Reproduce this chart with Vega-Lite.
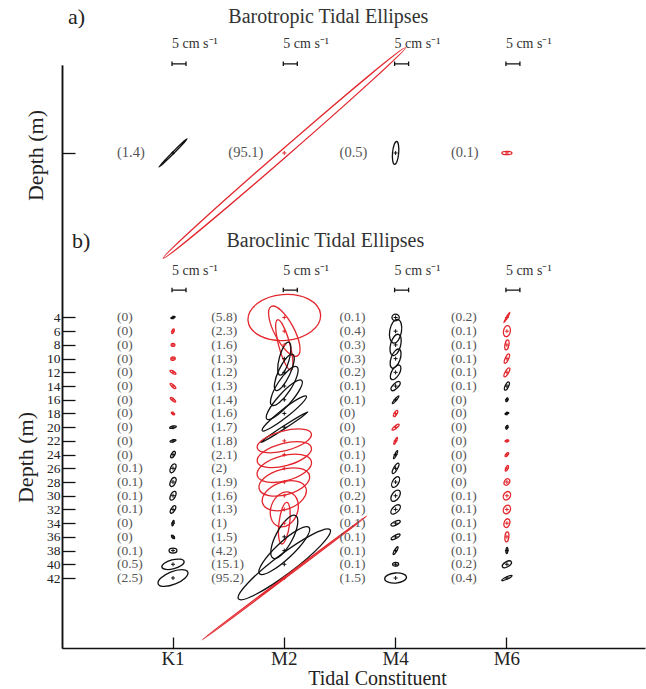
{
  "$schema": "https://vega.github.io/schema/vega-lite/v6.json",
  "width": 583,
  "height": 583,
  "autosize": {"type": "none"},
  "padding": {"left": 62, "top": 65, "right": 1, "bottom": 41},
  "background": "white",
  "config": {
    "view": {"stroke": null},
    "font": "Liberation Serif",
    "axis": {
      "grid": false,
      "labelOverlap": false,
      "labelBound": false,
      "domainColor": "#111111",
      "domainWidth": 1.5,
      "tickColor": "#111111",
      "tickWidth": 1.3,
      "labelColor": "#222222",
      "titleColor": "#222222",
      "labelFont": "Liberation Serif",
      "titleFont": "Liberation Serif",
      "titleFontWeight": "normal"
    },
    "axisY": {"labelOverlap": false},
    "axisLeft": {"labelOverlap": false},
    "axisQuantitative": {"labelOverlap": false}
  },
  "datasets": {
    "barotropic": [
      {"c": "K1", "major": 7.1, "minor": 0.3, "inc": 45, "sense": "clockwise", "share": 1.4},
      {"c": "M2", "major": 57.3, "minor": 1.4, "inc": 41, "sense": "anticlockwise", "share": 95.1},
      {"c": "M4", "major": 4.1, "minor": 1.1, "inc": 85, "sense": "clockwise", "share": 0.5},
      {"c": "M6", "major": 1.8, "minor": 0.6, "inc": 0, "sense": "anticlockwise", "share": 0.1}
    ],
    "baroclinic": [
      {"c": "K1", "depth": 4, "major": 0.8, "minor": 0.28, "inc": 20, "sense": "clockwise", "share": 0},
      {"c": "K1", "depth": 6, "major": 0.9, "minor": 0.35, "inc": 70, "sense": "anticlockwise", "share": 0},
      {"c": "K1", "depth": 8, "major": 0.7, "minor": 0.55, "inc": 0, "sense": "anticlockwise", "share": 0},
      {"c": "K1", "depth": 10, "major": 0.8, "minor": 0.6, "inc": 0, "sense": "anticlockwise", "share": 0},
      {"c": "K1", "depth": 12, "major": 1.2, "minor": 0.4, "inc": 150, "sense": "anticlockwise", "share": 0},
      {"c": "K1", "depth": 14, "major": 1.3, "minor": 0.4, "inc": 140, "sense": "anticlockwise", "share": 0},
      {"c": "K1", "depth": 16, "major": 1.2, "minor": 0.4, "inc": 140, "sense": "anticlockwise", "share": 0},
      {"c": "K1", "depth": 18, "major": 0.7, "minor": 0.3, "inc": 150, "sense": "anticlockwise", "share": 0},
      {"c": "K1", "depth": 20, "major": 1.2, "minor": 0.4, "inc": 10, "sense": "clockwise", "share": 0},
      {"c": "K1", "depth": 22, "major": 1.1, "minor": 0.35, "inc": 15, "sense": "clockwise", "share": 0},
      {"c": "K1", "depth": 24, "major": 1.3, "minor": 0.6, "inc": 60, "sense": "clockwise", "share": 0},
      {"c": "K1", "depth": 26, "major": 1.7, "minor": 0.85, "inc": 65, "sense": "clockwise", "share": 0.1},
      {"c": "K1", "depth": 28, "major": 1.7, "minor": 0.9, "inc": 65, "sense": "clockwise", "share": 0.1},
      {"c": "K1", "depth": 30, "major": 1.7, "minor": 0.85, "inc": 65, "sense": "clockwise", "share": 0.1},
      {"c": "K1", "depth": 32, "major": 1.5, "minor": 0.7, "inc": 60, "sense": "clockwise", "share": 0.1},
      {"c": "K1", "depth": 34, "major": 1.0, "minor": 0.3, "inc": 75, "sense": "clockwise", "share": 0},
      {"c": "K1", "depth": 36, "major": 0.8, "minor": 0.35, "inc": 130, "sense": "clockwise", "share": 0},
      {"c": "K1", "depth": 38, "major": 1.4, "minor": 0.9, "inc": 0, "sense": "clockwise", "share": 0.1},
      {"c": "K1", "depth": 40, "major": 4.1, "minor": 1.6, "inc": 15, "sense": "clockwise", "share": 0.5},
      {"c": "K1", "depth": 42, "major": 5.7, "minor": 2.3, "inc": 22, "sense": "clockwise", "share": 2.5},

      {"c": "M2", "depth": 4, "major": 13.0, "minor": 8.2, "inc": 5, "sense": "anticlockwise", "share": 5.8},
      {"c": "M2", "depth": 6, "major": 10.0, "minor": 3.5, "inc": 118, "sense": "anticlockwise", "share": 2.3},
      {"c": "M2", "depth": 8, "major": 9.3, "minor": 2.0, "inc": 105, "sense": "anticlockwise", "share": 1.6},
      {"c": "M2", "depth": 10, "major": 6.1, "minor": 1.8, "inc": 75, "sense": "clockwise", "share": 1.3},
      {"c": "M2", "depth": 12, "major": 7.1, "minor": 2.1, "inc": 65, "sense": "clockwise", "share": 1.2},
      {"c": "M2", "depth": 14, "major": 8.2, "minor": 2.5, "inc": 57, "sense": "clockwise", "share": 1.3},
      {"c": "M2", "depth": 16, "major": 9.3, "minor": 2.3, "inc": 48, "sense": "clockwise", "share": 1.4},
      {"c": "M2", "depth": 18, "major": 10.0, "minor": 1.5, "inc": 38, "sense": "clockwise", "share": 1.6},
      {"c": "M2", "depth": 20, "major": 10.0, "minor": 0.5, "inc": 33, "sense": "clockwise", "share": 1.7},
      {"c": "M2", "depth": 22, "major": 10.0, "minor": 3.5, "inc": 15, "sense": "anticlockwise", "share": 1.8},
      {"c": "M2", "depth": 24, "major": 10.0, "minor": 4.0, "inc": 15, "sense": "anticlockwise", "share": 2.1},
      {"c": "M2", "depth": 26, "major": 10.0, "minor": 4.5, "inc": 15, "sense": "anticlockwise", "share": 2},
      {"c": "M2", "depth": 28, "major": 9.3, "minor": 4.6, "inc": 15, "sense": "anticlockwise", "share": 1.9},
      {"c": "M2", "depth": 30, "major": 8.2, "minor": 4.9, "inc": 20, "sense": "anticlockwise", "share": 1.6},
      {"c": "M2", "depth": 32, "major": 6.4, "minor": 4.8, "inc": 70, "sense": "anticlockwise", "share": 1.3},
      {"c": "M2", "depth": 34, "major": 7.5, "minor": 1.9, "inc": 83, "sense": "anticlockwise", "share": 1},
      {"c": "M2", "depth": 36, "major": 8.6, "minor": 3.0, "inc": 62, "sense": "clockwise", "share": 1.5},
      {"c": "M2", "depth": 38, "major": 12.1, "minor": 3.0, "inc": 43, "sense": "clockwise", "share": 4.2},
      {"c": "M2", "depth": 40, "major": 20.5, "minor": 3.5, "inc": 37, "sense": "clockwise", "share": 15.1},
      {"c": "M2", "depth": 42, "major": 36.8, "minor": 0.25, "inc": 37, "sense": "anticlockwise", "share": 95.2},

      {"c": "M4", "depth": 4, "major": 1.3, "minor": 1.2, "inc": 0, "sense": "clockwise", "share": 0.1},
      {"c": "M4", "depth": 6, "major": 4.3, "minor": 2.1, "inc": 80, "sense": "clockwise", "share": 0.4},
      {"c": "M4", "depth": 8, "major": 3.9, "minor": 1.8, "inc": 75, "sense": "clockwise", "share": 0.3},
      {"c": "M4", "depth": 10, "major": 3.6, "minor": 1.6, "inc": 70, "sense": "clockwise", "share": 0.3},
      {"c": "M4", "depth": 12, "major": 2.9, "minor": 1.4, "inc": 60, "sense": "clockwise", "share": 0.2},
      {"c": "M4", "depth": 14, "major": 2.1, "minor": 0.9, "inc": 45, "sense": "clockwise", "share": 0.1},
      {"c": "M4", "depth": 16, "major": 1.8, "minor": 0.3, "inc": 50, "sense": "clockwise", "share": 0.1},
      {"c": "M4", "depth": 18, "major": 1.25, "minor": 0.5, "inc": 60, "sense": "anticlockwise", "share": 0},
      {"c": "M4", "depth": 20, "major": 1.6, "minor": 0.45, "inc": 40, "sense": "anticlockwise", "share": 0},
      {"c": "M4", "depth": 22, "major": 1.4, "minor": 0.3, "inc": 65, "sense": "anticlockwise", "share": 0.1},
      {"c": "M4", "depth": 24, "major": 1.6, "minor": 0.3, "inc": 65, "sense": "clockwise", "share": 0.1},
      {"c": "M4", "depth": 26, "major": 2.1, "minor": 0.65, "inc": 60, "sense": "clockwise", "share": 0.1},
      {"c": "M4", "depth": 28, "major": 2.1, "minor": 1.1, "inc": 60, "sense": "clockwise", "share": 0.1},
      {"c": "M4", "depth": 30, "major": 2.3, "minor": 1.3, "inc": 55, "sense": "clockwise", "share": 0.2},
      {"c": "M4", "depth": 32, "major": 2.1, "minor": 1.1, "inc": 45, "sense": "clockwise", "share": 0.1},
      {"c": "M4", "depth": 34, "major": 1.8, "minor": 0.65, "inc": 25, "sense": "clockwise", "share": 0.1},
      {"c": "M4", "depth": 36, "major": 1.8, "minor": 0.55, "inc": 30, "sense": "clockwise", "share": 0.1},
      {"c": "M4", "depth": 38, "major": 1.6, "minor": 0.4, "inc": 60, "sense": "clockwise", "share": 0.1},
      {"c": "M4", "depth": 40, "major": 1.1, "minor": 0.65, "inc": 0, "sense": "clockwise", "share": 0.1},
      {"c": "M4", "depth": 42, "major": 3.9, "minor": 1.8, "inc": 5, "sense": "clockwise", "share": 1.5},

      {"c": "M6", "depth": 4, "major": 2.1, "minor": 0.2, "inc": 60, "sense": "anticlockwise", "share": 0.2},
      {"c": "M6", "depth": 6, "major": 2.0, "minor": 1.2, "inc": 80, "sense": "anticlockwise", "share": 0.1},
      {"c": "M6", "depth": 8, "major": 1.8, "minor": 0.7, "inc": 80, "sense": "anticlockwise", "share": 0.1},
      {"c": "M6", "depth": 10, "major": 1.8, "minor": 0.6, "inc": 65, "sense": "anticlockwise", "share": 0.1},
      {"c": "M6", "depth": 12, "major": 1.8, "minor": 0.6, "inc": 60, "sense": "anticlockwise", "share": 0.1},
      {"c": "M6", "depth": 14, "major": 1.6, "minor": 0.6, "inc": 65, "sense": "clockwise", "share": 0.1},
      {"c": "M6", "depth": 16, "major": 0.7, "minor": 0.35, "inc": 70, "sense": "clockwise", "share": 0},
      {"c": "M6", "depth": 18, "major": 0.7, "minor": 0.3, "inc": 20, "sense": "clockwise", "share": 0},
      {"c": "M6", "depth": 20, "major": 0.7, "minor": 0.35, "inc": 70, "sense": "clockwise", "share": 0},
      {"c": "M6", "depth": 22, "major": 0.7, "minor": 0.3, "inc": 10, "sense": "anticlockwise", "share": 0},
      {"c": "M6", "depth": 24, "major": 0.9, "minor": 0.35, "inc": 50, "sense": "anticlockwise", "share": 0},
      {"c": "M6", "depth": 26, "major": 1.1, "minor": 0.4, "inc": 65, "sense": "anticlockwise", "share": 0},
      {"c": "M6", "depth": 28, "major": 1.25, "minor": 0.9, "inc": 60, "sense": "anticlockwise", "share": 0},
      {"c": "M6", "depth": 30, "major": 1.6, "minor": 1.2, "inc": 60, "sense": "anticlockwise", "share": 0.1},
      {"c": "M6", "depth": 32, "major": 1.6, "minor": 1.2, "inc": 65, "sense": "anticlockwise", "share": 0.1},
      {"c": "M6", "depth": 34, "major": 1.6, "minor": 1.0, "inc": 75, "sense": "anticlockwise", "share": 0.1},
      {"c": "M6", "depth": 36, "major": 1.8, "minor": 0.7, "inc": 85, "sense": "anticlockwise", "share": 0.1},
      {"c": "M6", "depth": 38, "major": 1.1, "minor": 0.35, "inc": 85, "sense": "clockwise", "share": 0.1},
      {"c": "M6", "depth": 40, "major": 1.8, "minor": 0.9, "inc": 30, "sense": "clockwise", "share": 0.2},
      {"c": "M6", "depth": 42, "major": 2.0, "minor": 0.4, "inc": 25, "sense": "clockwise", "share": 0.4}
    ],
    "scalebars": [
      {"c": "K1", "speed": 5},
      {"c": "M2", "speed": 5},
      {"c": "M4", "speed": 5},
      {"c": "M6", "speed": 5}
    ]
  },
  "layer": [
    {
      "data": {"name": "barotropic"},
      "transform": [
        {"calculate": "'M -1 0 A 1 ' + format(datum.minor / datum.major, '.4f') + ' 0 1 0 1 0 A 1 ' + format(datum.minor / datum.major, '.4f') + ' 0 1 0 -1 0 Z'", "as": "outline"},
        {"calculate": "'(' + datum.share + ')'", "as": "label"}
      ],
      "encoding": {
        "x": {
          "field": "c", "type": "nominal",
          "scale": {"type": "band", "domain": ["K1", "M2", "M4", "M6"], "paddingInner": 0, "paddingOuter": 0.619, "align": 0.4017},
          "axis": {"orient": "bottom", "tickSize": -11, "labelAngle": 0, "labelFontSize": 19, "labelPadding": 12, "title": "Tidal Constituent", "titleFontSize": 20, "titlePadding": 0, "titleX": 315}
        },
        "y": {
          "datum": -20, "type": "quantitative",
          "scale": {"domain": [-32.83, 52.21], "reverse": true, "nice": false, "zero": false},
          "axis": {"orient": "left", "values": [-20], "labels": false, "tickSize": -13, "title": "Depth (m)", "titleFontSize": 22, "titleY": 90, "titleX": -15}
        }
      },
      "layer": [
        {
          "mark": {"type": "point", "filled": false, "strokeWidth": 1.3, "opacity": 1},
          "encoding": {
            "shape": {"field": "outline", "type": "nominal", "scale": null},
            "size": {"field": "major", "type": "quantitative", "scale": {"type": "pow", "exponent": 2, "domain": [0, 60], "range": [0, 112896]}, "legend": null},
            "angle": {"field": "inc", "type": "quantitative", "scale": {"domain": [0, 360], "range": [360, 0]}, "legend": null},
            "color": {"field": "sense", "type": "nominal", "scale": {"domain": ["clockwise", "anticlockwise"], "range": ["#111111", "#e3262d"]}, "legend": null}
          }
        },
        {
          "mark": {"type": "point", "filled": false, "strokeWidth": 1, "size": 16, "shape": "M -1 0 L 1 0 M 0 -1 L 0 1", "opacity": 1},
          "encoding": {
            "color": {"field": "sense", "type": "nominal", "scale": {"domain": ["clockwise", "anticlockwise"], "range": ["#111111", "#e3262d"]}, "legend": null}
          }
        },
        {
          "mark": {"type": "text", "align": "left", "baseline": "middle", "dx": -56, "fontSize": 14.5, "color": "#555555"},
          "encoding": {"text": {"field": "label", "type": "nominal"}}
        }
      ]
    },
    {
      "data": {"name": "baroclinic"},
      "encoding": {
        "x": {"field": "c", "type": "nominal"},
        "y": {
          "field": "depth", "type": "quantitative",
          "scale": {"domain": [-32.83, 52.21], "reverse": true, "nice": false, "zero": false},
          "axis": {"orient": "left", "values": [4, 6, 8, 10, 12, 14, 16, 18, 20, 22, 24, 26, 28, 30, 32, 34, 36, 38, 40, 42], "labelOverlap": false, "labelSeparation": -20, "labelFontSize": 13.5, "labelPadding": 15, "tickSize": -13, "title": "Depth (m)", "titleFontSize": 22, "titleY": 392, "titleX": -25}
        }
      },
      "layer": [
        {
          "transform": [
            {"calculate": "'M -1 0 A 1 ' + format(datum.minor / datum.major, '.4f') + ' 0 1 0 1 0 A 1 ' + format(datum.minor / datum.major, '.4f') + ' 0 1 0 -1 0 Z'", "as": "outline"}
          ],
          "mark": {"type": "point", "filled": false, "strokeWidth": 1.3, "opacity": 1},
          "encoding": {
            "shape": {"field": "outline", "type": "nominal", "scale": null},
            "size": {"field": "major", "type": "quantitative", "scale": {"type": "pow", "exponent": 2, "domain": [0, 60], "range": [0, 112896]}, "legend": null},
            "angle": {"field": "inc", "type": "quantitative", "scale": {"domain": [0, 360], "range": [360, 0]}, "legend": null},
            "color": {"field": "sense", "type": "nominal", "scale": {"domain": ["clockwise", "anticlockwise"], "range": ["#111111", "#e3262d"]}, "legend": null}
          }
        },
        {
          "mark": {"type": "point", "filled": false, "strokeWidth": 1, "size": 16, "shape": "M -1 0 L 1 0 M 0 -1 L 0 1", "opacity": 1},
          "encoding": {
            "color": {"field": "sense", "type": "nominal", "scale": {"domain": ["clockwise", "anticlockwise"], "range": ["#111111", "#e3262d"]}, "legend": null}
          }
        },
        {
          "transform": [
            {"filter": "datum.c !== 'M2'"},
            {"calculate": "'(' + datum.share + ')'", "as": "label"}
          ],
          "mark": {"type": "text", "align": "left", "baseline": "middle", "dx": -56, "fontSize": 13.5, "color": "#555555"},
          "encoding": {"text": {"field": "label", "type": "nominal"}}
        },
        {
          "transform": [
            {"filter": "datum.c === 'M2'"},
            {"calculate": "'(' + datum.share + ')'", "as": "label"}
          ],
          "mark": {"type": "text", "align": "left", "baseline": "middle", "dx": -73, "fontSize": 13.5, "color": "#555555"},
          "encoding": {"text": {"field": "label", "type": "nominal"}}
        }
      ]
    },
    {
      "layer": [
        {
          "data": {"name": "scalebars"},
          "mark": {"type": "point", "filled": false, "strokeWidth": 1.3, "xOffset": 6, "shape": "M -0.5 0 L 0.5 0 M -0.5 -0.16 L -0.5 0.16 M 0.5 -0.16 L 0.5 0.16", "color": "#111111", "opacity": 1},
          "encoding": {
            "x": {"field": "c", "type": "nominal"},
            "y": {"datum": -33.0, "type": "quantitative", "scale": {"domain": [-32.83, 52.21], "reverse": true, "nice": false, "zero": false}, "axis": null},
            "size": {"field": "speed", "type": "quantitative", "scale": {"type": "pow", "exponent": 2, "domain": [0, 60], "range": [0, 112896]}, "legend": null}
          }
        },
        {
          "data": {"name": "scalebars"},
          "mark": {"type": "point", "filled": false, "strokeWidth": 1.3, "xOffset": 6, "shape": "M -0.5 0 L 0.5 0 M -0.5 -0.16 L -0.5 0.16 M 0.5 -0.16 L 0.5 0.16", "color": "#111111", "opacity": 1},
          "encoding": {
            "x": {"field": "c", "type": "nominal"},
            "y": {"datum": 0, "type": "quantitative"},
            "size": {"field": "speed", "type": "quantitative", "scale": {"type": "pow", "exponent": 2, "domain": [0, 60], "range": [0, 112896]}, "legend": null}
          }
        },
        {
          "data": {"name": "scalebars"},
          "mark": {"type": "text", "align": "left", "baseline": "middle", "dx": -1, "fontSize": 14, "color": "#333333"},
          "encoding": {
            "x": {"field": "c", "type": "nominal"},
            "y": {"datum": -35.9, "type": "quantitative"},
            "text": {"value": "5 cm s⁻¹"}
          }
        },
        {
          "data": {"name": "scalebars"},
          "mark": {"type": "text", "align": "left", "baseline": "middle", "dx": -1, "fontSize": 14, "color": "#333333"},
          "encoding": {
            "x": {"field": "c", "type": "nominal"},
            "y": {"datum": -2.8, "type": "quantitative"},
            "text": {"value": "5 cm s⁻¹"}
          }
        },
        {
          "data": {"values": [{}]},
          "mark": {"type": "text", "align": "center", "baseline": "middle", "dx": 44, "fontSize": 20, "color": "#333333"},
          "encoding": {
            "x": {"datum": "M2", "type": "nominal", "bandPosition": 0.5},
            "y": {"datum": -39.9, "type": "quantitative"},
            "text": {"value": "Barotropic Tidal Ellipses"}
          }
        },
        {
          "data": {"values": [{}]},
          "mark": {"type": "text", "align": "center", "baseline": "middle", "dx": 41, "fontSize": 20, "color": "#333333"},
          "encoding": {
            "x": {"datum": "M2", "type": "nominal", "bandPosition": 0.5},
            "y": {"datum": -7.2, "type": "quantitative"},
            "text": {"value": "Baroclinic Tidal Ellipses"}
          }
        },
        {
          "data": {"values": [{}]},
          "mark": {"type": "text", "align": "left", "baseline": "middle", "dx": -105, "fontSize": 22, "color": "#222222"},
          "encoding": {
            "x": {"datum": "K1", "type": "nominal", "bandPosition": 0.5},
            "y": {"datum": -39.9, "type": "quantitative"},
            "text": {"value": "a)"}
          }
        },
        {
          "data": {"values": [{}]},
          "mark": {"type": "text", "align": "left", "baseline": "middle", "dx": -101, "fontSize": 22, "color": "#222222"},
          "encoding": {
            "x": {"datum": "K1", "type": "nominal", "bandPosition": 0.5},
            "y": {"datum": -7.2, "type": "quantitative"},
            "text": {"value": "b)"}
          }
        }
      ]
    }
  ],
  "resolve": {"scale": {"y": "independent"}}
}
